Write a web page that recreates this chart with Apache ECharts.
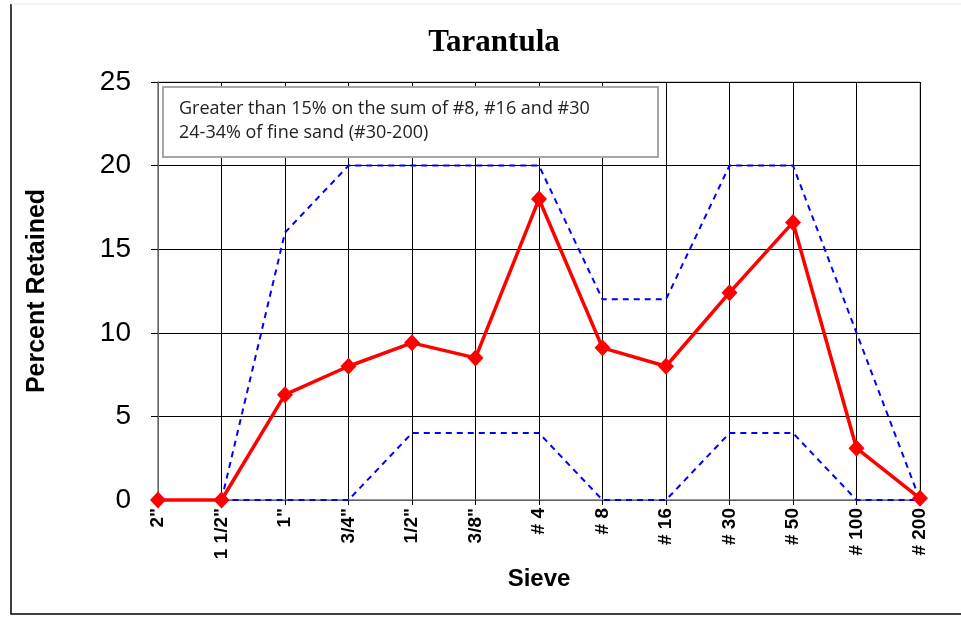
<!DOCTYPE html>
<html>
<head>
<meta charset="utf-8">
<script src="https://cdn.jsdelivr.net/npm/echarts@6/dist/echarts.min.js"></script>
<style>
    html, body { margin: 0; padding: 0; background: #fff; }
    #chart { width: 961px; height: 618px; }
</style>
</head>
<body>
<div id="chart"></div>
<script>
// sieve sizes along the x axis
const sieves = ['2"', '1 1/2"', '1"', '3/4"', '1/2"', '3/8"', '# 4', '# 8', '# 16', '# 30', '# 50', '# 100', '# 200'];
// percent retained (red)
const retained = [0, 0, 6.3, 8.0, 9.4, 8.5, 18.0, 9.1, 8.0, 12.4, 16.6, 3.1, 0.1];
// spec limits (blue dashed)
const upperLimit = ['-', 0, 16, 20, 20, 20, 20, 12, 12, 20, 20, 10, 0];
const lowerLimit = ['-', 0, 0, 0, 4, 4, 4, 0, 0, 4, 4, 0, 0];
const yTicks = [0, 5, 10, 15, 20, 25];
const noteLines = [
    'Greater than 15% on the sum of #8, #16 and #30',
    '24-34% of fine sand (#30-200)'
];

const chart = echarts.init(document.getElementById('chart'));

const limitStyle = {
    type: 'line',
    symbol: 'none',
    silent: true,
    z: 2,
    lineStyle: { color: '#0000ff', width: 2, type: [6, 5] }
};

const option = {
    animation: false,
    title: {
        text: 'Tarantula',
        left: 489,
        top: 22,
        textAlign: 'center',
        textStyle: { fontFamily: 'Liberation Serif', fontWeight: 'bold', fontSize: 31, color: '#000' }
    },
    grid: {
        left: 158, right: 41, top: 82, bottom: 118,
        show: true, borderColor: '#999', borderWidth: 1
    },
    xAxis: {
        type: 'category',
        data: sieves,
        boundaryGap: false,
        name: 'Sieve',
        nameLocation: 'middle',
        nameGap: 67,
        nameTextStyle: { fontFamily: 'Liberation Sans', fontWeight: 'bold', fontSize: 24, color: '#000' },
        axisLine: { lineStyle: { color: '#888', width: 1.5 } },
        axisTick: { show: true, length: 5, lineStyle: { color: '#000' } },
        axisLabel: {
            rotate: 90, interval: 0, margin: 8,
            fontFamily: 'Liberation Sans', fontWeight: 'bold', fontSize: 19, color: '#000'
        },
        splitLine: { show: true, lineStyle: { color: '#000', width: 1 } }
    },
    yAxis: {
        type: 'value',
        min: yTicks[0],
        max: yTicks[yTicks.length - 1],
        interval: 5,
        name: 'Percent Retained',
        nameLocation: 'middle',
        nameGap: 108,
        nameTextStyle: { fontFamily: 'Liberation Sans', fontWeight: 'bold', fontSize: 25, color: '#000' },
        axisLine: { show: true, lineStyle: { color: '#888', width: 1.5 } },
        axisTick: { show: true, length: 7, lineStyle: { color: '#000' } },
        axisLabel: { fontFamily: 'Liberation Sans', fontSize: 28, color: '#000', margin: 27 },
        splitLine: { show: true, lineStyle: { color: '#000', width: 1 } }
    },
    graphic: [
        // outer frame (left and bottom)
        {
            type: 'polyline', silent: true,
            shape: { points: [[11, 4], [11, 614], [961, 614]] },
            style: { stroke: '#000', lineWidth: 1.5, fill: null }
        },
        {
            type: 'line', silent: true,
            shape: { x1: 11, y1: 4, x2: 961, y2: 4 },
            style: { stroke: '#e4e4e4', lineWidth: 1 }
        },
        // note box
        {
            type: 'rect', z: 10,
            shape: { x: 163, y: 87, width: 495, height: 70 },
            style: { fill: '#fff', stroke: '#a6a6a6', lineWidth: 2 }
        },
        {
            type: 'text', z: 11,
            x: 179, y: 97,
            style: {
                text: noteLines.join('\n'),
                font: '18px "Open Sans"',
                lineHeight: 24,
                fill: '#222'
            }
        }
    ],
    series: [
        Object.assign({ name: 'Upper', data: upperLimit }, limitStyle),
        Object.assign({ name: 'Lower', data: lowerLimit }, limitStyle),
        {
            name: 'Retained',
            type: 'line',
            data: retained,
            z: 5,
            clip: false,
            symbol: 'diamond',
            symbolSize: [16, 17],
            itemStyle: { color: '#ff0000' },
            lineStyle: { color: '#ff0000', width: 3.5 }
        }
    ]
};

chart.setOption(option);
</script>
</body>
</html>
